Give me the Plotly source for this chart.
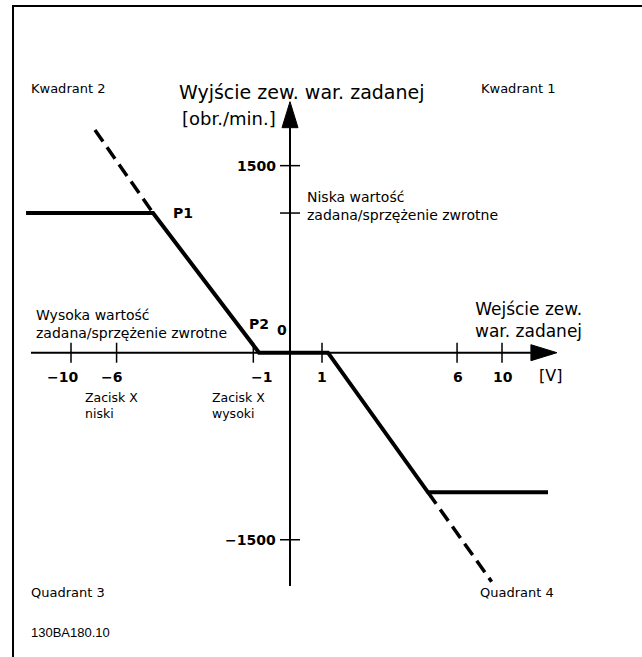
import plotly.graph_objects as go

# ---------------- data (schematic diagram units) ----------------
# x: schematic input axis units, y: output speed [obr./min.]
x_tick_at = [-10.33, -8.18, -1.73, 1.51, 7.88, 10.0]
x_tick_labels = ["−10", "−6", "−1", "1", "6", "10"]
y_tick_at = [1500, 1120, -1500]
y_tick_labels = ["1500", "", "−1500"]

curve_x = [-12.45, -6.46, -1.46, 1.79, 6.51, 12.17]
curve_y = [1120, 1120, 0, 0, -1120, -1120]
ext_up_x = [-9.20, -6.46]
ext_up_y = [1786, 1120]
ext_dn_x = [6.51, 9.51]
ext_dn_y = [-1120, -1836]

x_axis_span = [-12.22, 12.59]
y_axis_span = [-1871, 2013]

# ---------------- layout constants ----------------
W, H = 642, 657
OX, OY = 290.0, 352.7          # pixel position of origin
SX, SY = 21.2, 0.1247          # px per x unit, px per rpm
XR = [-OX / SX, (W - OX) / SX]
YR = [-(H - OY) / SY, OY / SY]

ARROW_LEN, ARROW_HALF, TICK_HALF = 26, 8, 10
FONT = "DejaVu Sans"

fig = go.Figure()

# axes lines
xb = x_axis_span[1] - ARROW_LEN / SX
yb = y_axis_span[1] - ARROW_LEN / SY
fig.add_trace(go.Scatter(x=[x_axis_span[0], xb], y=[0, 0], mode="lines",
                         line=dict(color="black", width=2), hoverinfo="skip"))
fig.add_trace(go.Scatter(x=[0, 0], y=[y_axis_span[0], yb], mode="lines",
                         line=dict(color="black", width=2), hoverinfo="skip"))
# arrowheads
hy = ARROW_HALF / SY
hx = ARROW_HALF / SX
fig.add_trace(go.Scatter(x=[xb, x_axis_span[1], xb, xb], y=[hy, 0, -hy, hy],
                         mode="lines", fill="toself", fillcolor="black",
                         line=dict(color="black", width=1), hoverinfo="skip"))
fig.add_trace(go.Scatter(x=[-hx, 0, hx, -hx], y=[yb, y_axis_span[1], yb, yb],
                         mode="lines", fill="toself", fillcolor="black",
                         line=dict(color="black", width=1), hoverinfo="skip"))

# ticks
tx, ty = [], []
for v in x_tick_at:
    tx += [v, v, None]
    ty += [TICK_HALF / SY, -TICK_HALF / SY, None]
for v in y_tick_at:
    tx += [-TICK_HALF / SX, TICK_HALF / SX, None]
    ty += [v, v, None]
fig.add_trace(go.Scatter(x=tx, y=ty, mode="lines",
                         line=dict(color="black", width=1.5), hoverinfo="skip"))

# characteristic curve
fig.add_trace(go.Scatter(x=curve_x, y=curve_y, mode="lines",
                         line=dict(color="black", width=4), hoverinfo="skip"))
fig.add_trace(go.Scatter(x=ext_up_x, y=ext_up_y, mode="lines",
                         line=dict(color="black", width=3.5, dash="14px,7px"),
                         hoverinfo="skip"))
fig.add_trace(go.Scatter(x=ext_dn_x, y=ext_dn_y, mode="lines",
                         line=dict(color="black", width=3.5, dash="14px,7px"),
                         hoverinfo="skip"))

ann = []


def txt(text, px, py, size=13, anchor="left", bold=False, family=FONT, align="left"):
    t = f"<b>{text}</b>" if bold else text
    ann.append(dict(text=t, x=px / W, y=1 - py / H, xref="paper", yref="paper",
                    xanchor=anchor, yanchor="middle", showarrow=False, align=align,
                    borderpad=0,
                    font=dict(family=family, size=size, color="black")))


# tick labels
x_label_shift = [-9, -5, 8, 0, 1, 1]
for v, lab, sh in zip(x_tick_at, x_tick_labels, x_label_shift):
    txt(lab, OX + v * SX + sh, 377, size=14, anchor="center", bold=True)
for v, lab in zip(y_tick_at, y_tick_labels):
    if lab:
        txt(lab, 277, OY - v * SY, size=14, anchor="right", bold=True)

txt("Kwadrant 2", 30, 88)
txt("Kwadrant 1", 480, 88)
txt("Wyjście zew. war. zadanej", 302, 92, size=19, anchor="center")
txt("[obr./min.]", 277, 119, size=18, anchor="right")
txt("Niska wartość<br>zadana/sprzężenie zwrotne", 306, 206, size=14)
txt("P1", 172, 213, size=14, bold=True)
txt("Wysoka wartość<br>zadana/sprzężenie zwrotne", 35, 324, size=14)
txt("P2", 248, 324, size=14, bold=True)
txt("0", 276, 330, size=14, bold=True)
txt("Wejście zew.<br>war. zadanej", 583, 320, size=17, anchor="right", align="right")
txt("[V]", 550, 375, size=16, anchor="center")
txt("Zacisk X<br>niski", 84, 405, size=12.5)
txt("Zacisk X<br>wysoki", 211, 405, size=12.5)
txt("Quadrant 3", 30, 592)
txt("Quadrant 4", 479, 592)
txt("130BA180.10", 30, 632, size=13, family="Liberation Sans")

shapes = [
    dict(type="line", xref="paper", yref="paper", x0=13 / W, x1=13 / W,
         y0=0, y1=1 - 5 / H, line=dict(color="black", width=2)),
    dict(type="line", xref="paper", yref="paper", x0=12 / W, x1=1,
         y0=1 - 6 / H, y1=1 - 6 / H, line=dict(color="black", width=2)),
]

fig.update_layout(
    width=W, height=H, margin=dict(l=0, r=0, t=0, b=0),
    paper_bgcolor="white", plot_bgcolor="white", showlegend=False,
    xaxis=dict(range=XR, visible=False, fixedrange=True),
    yaxis=dict(range=YR, visible=False, fixedrange=True),
    annotations=ann, shapes=shapes,
)

fig.write_html(
    "out.html",
    config=dict(displayModeBar=False),
    post_script="document.body.style.margin='0';document.body.style.overflow='hidden';",
)
